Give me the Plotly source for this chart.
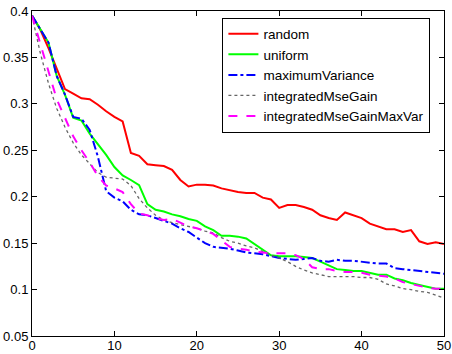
import plotly.graph_objects as go

x_vals = list(range(0, 51))

random_vals = [0.395, 0.380, 0.360, 0.338, 0.316, 0.311, 0.306, 0.305, 0.299, 0.292,
               0.286, 0.281, 0.247, 0.244, 0.235, 0.234, 0.233, 0.229, 0.218, 0.211,
               0.213, 0.213, 0.212, 0.209, 0.207, 0.205, 0.204, 0.204, 0.199, 0.197,
               0.188, 0.191, 0.191, 0.189, 0.186, 0.180, 0.177, 0.175, 0.183, 0.180,
               0.177, 0.171, 0.168, 0.165, 0.165, 0.162, 0.164, 0.152, 0.149, 0.151,
               0.149]

uniform_vals = [0.395, 0.380, 0.366, 0.330, 0.310, 0.285, 0.282, 0.268, 0.257, 0.245,
                0.232, 0.223, 0.218, 0.2125, 0.192, 0.186, 0.184, 0.181, 0.179, 0.176,
                0.174, 0.168, 0.164, 0.158, 0.158, 0.157, 0.155, 0.149, 0.143, 0.137,
                0.136, 0.136, 0.136, 0.135, 0.134, 0.130, 0.126, 0.122, 0.121, 0.120,
                0.120, 0.118, 0.116, 0.116, 0.112, 0.110, 0.107, 0.105, 0.103, 0.101,
                0.101]

max_variance_vals = [0.395, 0.380, 0.366, 0.330, 0.310, 0.286, 0.284, 0.272, 0.243, 0.206,
                     0.199, 0.195, 0.186, 0.181, 0.180, 0.177, 0.174, 0.171, 0.166, 0.162,
                     0.156, 0.150, 0.146, 0.145, 0.144, 0.142, 0.140, 0.139, 0.138, 0.136,
                     0.134, 0.133, 0.132, 0.133, 0.134, 0.131, 0.130, 0.132, 0.131, 0.131,
                     0.130, 0.129, 0.128, 0.128, 0.123, 0.122, 0.121, 0.120, 0.119, 0.118,
                     0.117]

mse_gain_vals = [0.395, 0.355, 0.322, 0.295, 0.275, 0.258, 0.245, 0.235, 0.226, 0.221,
                 0.220, 0.219, 0.212, 0.198, 0.188, 0.180, 0.175, 0.172, 0.170, 0.168,
                 0.166, 0.163, 0.161, 0.156, 0.152, 0.150, 0.147, 0.145, 0.141, 0.137,
                 0.134, 0.130, 0.125, 0.121, 0.118, 0.116, 0.114, 0.114, 0.114, 0.114,
                 0.113, 0.113, 0.111, 0.106, 0.104, 0.101, 0.100, 0.098, 0.097, 0.094,
                 0.091]

mse_gain_maxvar_vals = [0.395, 0.365, 0.335, 0.305, 0.285, 0.265, 0.250, 0.237, 0.222, 0.212,
                        0.209, 0.205, 0.192, 0.182, 0.180, 0.177, 0.175, 0.176, 0.172, 0.168,
                        0.166, 0.163, 0.160, 0.153, 0.146, 0.144, 0.143, 0.141, 0.140, 0.139,
                        0.139, 0.139, 0.137, 0.133, 0.124, 0.122, 0.122, 0.120, 0.119, 0.119,
                        0.118, 0.116, 0.115, 0.114, 0.112, 0.108, 0.106, 0.104, 0.102, 0.101,
                        0.101]

series = [
    ("random", random_vals, "#ff0000", "solid", 2),
    ("uniform", uniform_vals, "#00ff00", "solid", 2),
    ("maximumVariance", max_variance_vals, "#0000ff", "dashdot", 2),
    ("integratedMseGain", mse_gain_vals, "#666666", "dot", 1.3),
    ("integratedMseGainMaxVar", mse_gain_maxvar_vals, "#ff00ff", "dash", 2),
]

x_ticks = [0, 10, 20, 30, 40, 50]
y_ticks = [0.05, 0.1, 0.15, 0.2, 0.25, 0.3, 0.35, 0.4]
y_tick_text = ["0.05", "0.1", "0.15", "0.2", "0.25", "0.3", "0.35", "0.4"]

fig = go.Figure()
for name, vals, color, dash, w in series:
    fig.add_trace(go.Scatter(x=x_vals, y=vals, mode="lines", name=name,
                             line=dict(color=color, dash=dash, width=w)))

axis_common = dict(showline=True, linecolor="black", linewidth=1, mirror="ticks",
                   ticks="inside", ticklen=5, tickcolor="black", showgrid=False,
                   zeroline=False, automargin=False,
                   tickfont=dict(size=13, color="black"))

fig.update_layout(
    width=452, height=354,
    margin=dict(l=32, r=8, t=11, b=18, pad=0),
    paper_bgcolor="white", plot_bgcolor="white",
    font=dict(family="Liberation Sans, Arial, sans-serif", size=13, color="black"),
    xaxis=dict(range=[0, 50], tickvals=x_ticks, ticklabelstandoff=-3, **axis_common),
    yaxis=dict(range=[0.05, 0.4], tickvals=y_ticks, ticktext=y_tick_text, **axis_common),
    legend=dict(x=0.967, y=0.98, xanchor="right", yanchor="top",
                bgcolor="white", bordercolor="black", borderwidth=1,
                font=dict(size=13.5), tracegroupgap=0, itemwidth=30),
    showlegend=True,
)

fig.write_html("out.html", config={"displayModeBar": False},
               post_script="document.body.style.margin='0';document.body.style.overflow='hidden';")
